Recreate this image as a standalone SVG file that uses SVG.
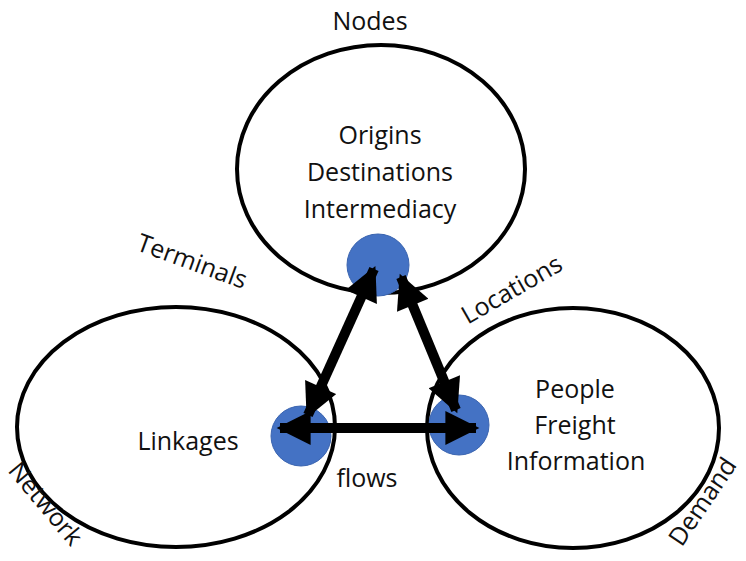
<svg xmlns="http://www.w3.org/2000/svg" width="746" height="561" viewBox="0 0 746 561">
  <style>
    .ring { fill: none; stroke: #000; stroke-width: 4; }
    .dot { fill: #4472c4; stroke: #3a64b0; stroke-width: 1; }
    .lbl { font-family: "Open Sans", "Liberation Sans", sans-serif; font-size: 25px; fill: #111; text-anchor: middle; }
    .link { stroke: #000; stroke-width: 10; fill: none; }
  </style>
  <defs>
    <marker id="head" viewBox="0 0 10 10" refX="9" refY="5" markerWidth="3.6" markerHeight="3.4" orient="auto-start-reverse" markerUnits="strokeWidth">
      <path d="M0,0 L10,5 L0,10 Z" fill="#000"/>
    </marker>
  </defs>

  <g id="nodes-ellipse">
    <ellipse class="ring" cx="381" cy="169" rx="144" ry="124"/>
    <text class="lbl" x="380" y="144">Origins</text>
    <text class="lbl" x="380" y="181">Destinations</text>
    <text class="lbl" x="380" y="218">Intermediacy</text>
  </g>
  <g id="network-ellipse">
    <ellipse class="ring" cx="176" cy="427" rx="159" ry="120"/>
    <text class="lbl" x="188" y="450">Linkages</text>
  </g>
  <g id="demand-ellipse">
    <ellipse class="ring" cx="573" cy="428" rx="146" ry="120"/>
    <text class="lbl" x="575" y="398">People</text>
    <text class="lbl" x="575" y="434">Freight</text>
    <text class="lbl" x="576" y="470">Information</text>
  </g>

  <g id="dot-top"><circle class="dot" cx="378" cy="265" r="31"/></g>
  <g id="dot-left"><circle class="dot" cx="301" cy="436" r="30"/></g>
  <g id="dot-right"><circle class="dot" cx="459" cy="425" r="30"/></g>

  <g id="connectors">
    <line class="link" x1="280" y1="428" x2="476" y2="428" marker-start="url(#head)" marker-end="url(#head)"/>
    <line class="link" x1="374" y1="269" x2="308" y2="415" marker-start="url(#head)" marker-end="url(#head)"/>
    <line class="link" x1="401" y1="277" x2="456" y2="410" marker-start="url(#head)" marker-end="url(#head)"/>
  </g>

  <g id="labels">
    <text class="lbl" x="370" y="30">Nodes</text>
    <text class="lbl" x="367" y="487">flows</text>
    <text class="lbl" transform="translate(192,262) rotate(20)" y="8">Terminals</text>
    <text class="lbl" transform="translate(512,290) rotate(-30)" y="8">Locations</text>
    <text class="lbl" transform="translate(45,504) rotate(50)" y="8">Network</text>
    <text class="lbl" transform="translate(703,502) rotate(-56)" y="8">Demand</text>
  </g>
</svg>
